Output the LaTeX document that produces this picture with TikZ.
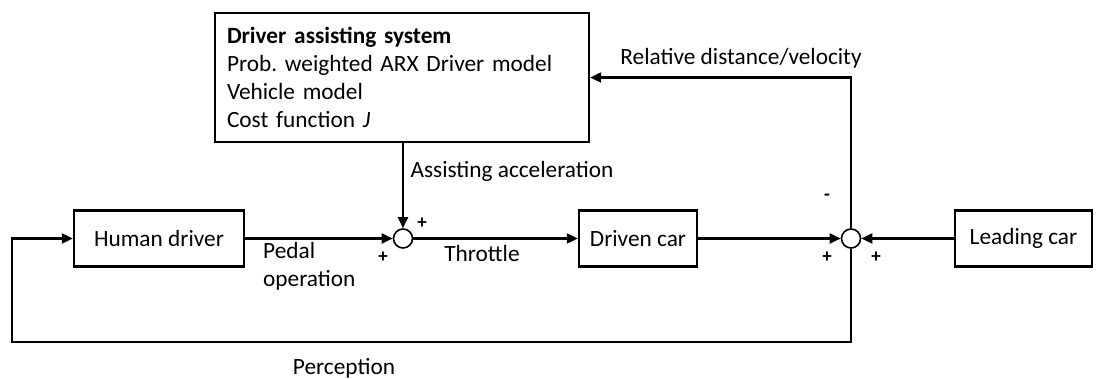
\documentclass[tikz,border=0pt]{standalone}
\usepackage{fontspec}
\setmainfont{Carlito}
\usetikzlibrary{arrows.meta}

\tikzset{
  block/.style={draw, line width=2.4pt, minimum height=56, inner sep=0pt},
  sumnode/.style={draw, circle, line width=1.6pt, minimum size=19, inner sep=0pt},
  sig/.style={line width=2.2pt, -{Triangle[length=11,width=10]}},
  sign/.style={font=\fontsize{19}{20}\selectfont\bfseries, inner sep=0pt},
}

\begin{document}
\frenchspacing
\begin{tikzpicture}[x=1pt, y=-1pt, font=\fontsize{23.3}{28}\selectfont]

  \useasboundingbox (0,0) rectangle (1102,379);

  %%-- BLOCKS --%%
  \node[block, minimum width=374, minimum height=129, text width=350, align=left]
    (das) at (402,77.5) {%
    \textbf{Driver assisting system}\\
    Prob. weighted ARX Driver model\\
    Vehicle model\\
    Cost function \textit{J}};
  \node[block, minimum width=170] (human) at (159,238.5) {Human driver};
  \node[block, minimum width=118] (driven) at (638,238.5) {Driven car};
  \node[block, minimum width=137] (lead) at (1023.5,238.5) {Leading car};

  %%-- SUMMING POINTS --%%
  \node[sumnode] (sum1) at (403,238.5) {};
  \node[sumnode] (sum2) at (851,238.5) {};
  \coordinate (fbk) at (12,342);

  %%-- CONNECTORS --%%
  \draw[sig] (human.east) -- (sum1.west);
  \draw[sig] (das.south -| sum1.north) -- (sum1.north);
  \draw[sig] (sum1.east) -- (driven.west);
  \draw[sig] (driven.east) -- (sum2.west);
  \draw[sig] (lead.west) -- (sum2.east);
  \draw[sig] (sum2.north) |- (das.east);
  \draw[sig] (sum2.south) |- (fbk) |- (human.west);

  %%-- SIGNAL LABELS --%%
  \node (relvel) at (741,58) {Relative distance/velocity};
  \node[anchor=west] (assist) at (407,171) {Assisting acceleration};
  \node (throttle) at (482,253) {Throttle};
  \node[anchor=north west, align=left, inner sep=0pt] (pedal) at (263,242) {Pedal\\operation};
  \node (percept) at (344,368) {Perception};

  %%-- SIGNS --%%
  \node[sign] (s1a) at (422,223) {+};
  \node[sign] (s1b) at (383,257) {+};
  \node[sign] (s2a) at (827,197) {-};
  \node[sign] (s2b) at (827,257) {+};
  \node[sign] (s2c) at (876,257) {+};

\end{tikzpicture}
\end{document}
